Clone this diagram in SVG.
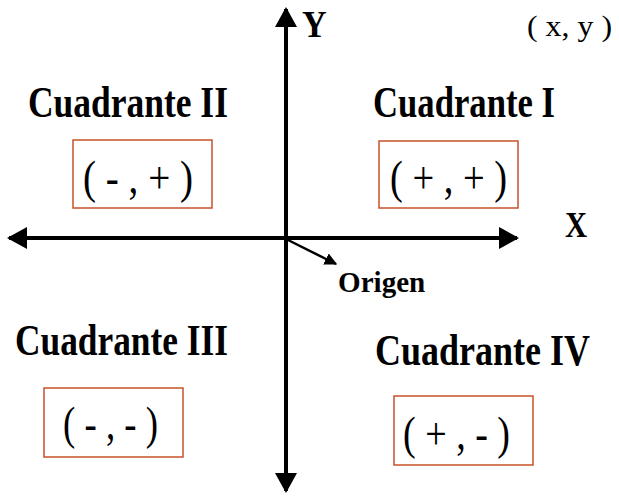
<svg xmlns="http://www.w3.org/2000/svg" width="619" height="500" viewBox="0 0 619 500">
<style>
.lbl{font-family:"Liberation Serif","Times New Roman",serif;font-weight:bold;fill:#000}
.sgn{font-family:"Liberation Serif","Times New Roman",serif;fill:#000}
.box{fill:#fff;stroke:#c8502a;stroke-width:1.5}
.axis{stroke:#000;stroke-width:4;fill:none}
</style>
<defs>
<marker id="ah" viewBox="0 0 10 10" refX="9" refY="5" markerWidth="5" markerHeight="5.5" markerUnits="strokeWidth" orient="auto-start-reverse" preserveAspectRatio="none">
<path d="M0,0 L10,5 L0,10 Z" fill="#000"/>
</marker>
<marker id="sm" viewBox="0 0 10 10" refX="9" refY="5" markerWidth="5" markerHeight="5" markerUnits="strokeWidth" orient="auto">
<path d="M0,0 L10,5 L0,10 Z" fill="#000"/>
</marker>
</defs>
<rect width="619" height="500" fill="#fff"/>
<g id="connectors">
<line class="axis" x1="286" y1="491" x2="286" y2="9" marker-end="url(#ah)" marker-start="url(#ah)"/>
<line class="axis" x1="9" y1="238" x2="517" y2="238" marker-end="url(#ah)" marker-start="url(#ah)"/>
<line x1="288" y1="240" x2="336" y2="264" stroke="#000" stroke-width="2.5" marker-end="url(#sm)"/>
</g>
<g id="label-y"><text class="lbl" transform="translate(302,37) scale(0.9,1)" font-size="38">Y</text></g>
<g id="label-x"><text class="lbl" transform="translate(565,237) scale(0.85,1)" font-size="36">X</text></g>
<g id="label-xy"><text class="sgn" x="527" y="36" font-size="30" textLength="85" lengthAdjust="spacingAndGlyphs">( x, y )</text></g>
<g id="origen"><text class="lbl" transform="translate(338,292) scale(0.97,1)" font-size="30">Origen</text></g>
<g id="q2">
<text class="lbl" transform="translate(28,117) scale(0.806,1)" font-size="44">Cuadrante II</text>
<rect class="box" x="73" y="140" width="139" height="68"/>
<text class="sgn" x="83" y="193" font-size="46" textLength="110" lengthAdjust="spacingAndGlyphs">( - , + )</text>
</g>
<g id="q1">
<text class="lbl" transform="translate(373,117) scale(0.788,1)" font-size="44">Cuadrante I</text>
<rect class="box" x="379" y="141" width="139" height="67"/>
<text class="sgn" x="390" y="193" font-size="46" textLength="117" lengthAdjust="spacingAndGlyphs">( + , + )</text>
</g>
<g id="q3">
<text class="lbl" transform="translate(15,355) scale(0.803,1)" font-size="44">Cuadrante III</text>
<rect class="box" x="44" y="388" width="139" height="69"/>
<text class="sgn" x="63" y="439" font-size="46" textLength="95" lengthAdjust="spacingAndGlyphs">( - , - )</text>
</g>
<g id="q4">
<text class="lbl" transform="translate(375,365) scale(0.818,1)" font-size="44">Cuadrante IV</text>
<rect class="box" x="394" y="396" width="139" height="69"/>
<text class="sgn" x="403" y="449" font-size="46" textLength="107" lengthAdjust="spacingAndGlyphs">( + , - )</text>
</g>
</svg>
